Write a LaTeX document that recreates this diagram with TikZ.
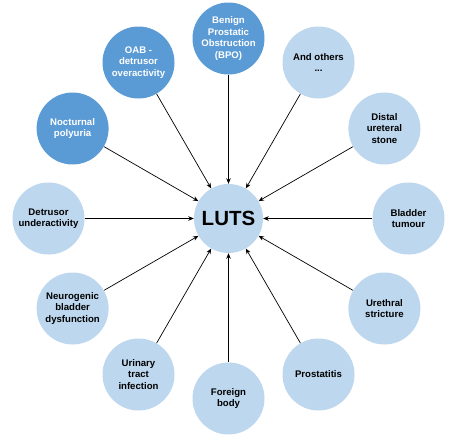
\documentclass[tikz,border=0pt]{standalone}
\usepackage{fontspec}
\setmainfont{Liberation Sans}
\usetikzlibrary{arrows.meta}
\definecolor{darkb}{RGB}{91,155,213}
\definecolor{lightb}{RGB}{189,215,238}
\begin{document}
\begin{tikzpicture}[x=1pt,y=-1pt,
  cause/.style={circle,minimum size=72pt,inner sep=0pt,align=center,
    font=\fontsize{9.6}{11.6}\selectfont\bfseries},
  darkc/.style={cause,fill=darkb,text=white},
  lightc/.style={cause,fill=lightb,text=black},
  hub/.style={circle,minimum size=69pt,inner sep=0pt,fill=lightb,
    font=\fontsize{20.5}{22}\selectfont\bfseries},
  link/.style={-{Stealth[length=5.5pt,width=4.5pt]},line width=0.7pt,black}]
\useasboundingbox (0,0) rectangle (457,439);
\node[hub] (luts) at (228.5,218.5) {LUTS};
\node[darkc] (bpo) at (228.5,38.5) {Benign\\Prostatic\\Obstruction\\(BPO)};
\node[darkc] (oab) at (138.5,62.5) {OAB -\\detrusor\\overactivity};
\node[darkc] (noc) at (72.6,128.5) {Nocturnal\\polyuria};
\node[lightc] (det) at (48.5,218.5) {Detrusor\\underactivity};
\node[lightc] (neu) at (72.6,308.5) {Neurogenic\\bladder\\dysfunction};
\node[lightc] (uti) at (138.5,374.5) {Urinary\\tract\\infection};
\node[lightc] (fb) at (228.5,398.5) {Foreign\\body};
\node[lightc] (pro) at (318.5,374.5) {Prostatitis};
\node[lightc] (ure) at (384.4,308.5) {Urethral\\stricture};
\node[lightc] (bla) at (408.5,218.5) {Bladder\\tumour};
\node[lightc] (dis) at (384.4,128.5) {Distal\\ureteral\\stone};
\node[lightc] (oth) at (318.5,62.5) {And others\\...};
\foreach \n in {bpo,oab,noc,det,neu,uti,fb,pro,ure,bla,dis,oth}
  \draw[link] (\n) -- (luts);
\end{tikzpicture}
\end{document}
